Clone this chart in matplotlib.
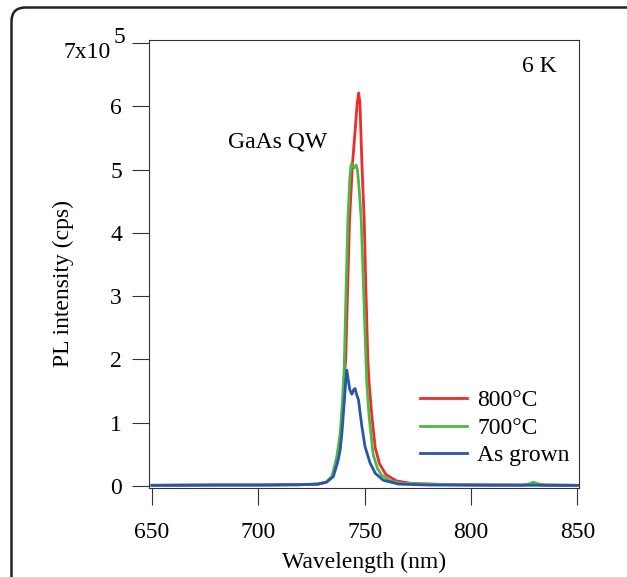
import matplotlib
matplotlib.use("Agg")
import matplotlib.pyplot as plt
from matplotlib.patches import FancyBboxPatch
from matplotlib.transforms import blended_transform_factory

plt.rcParams["font.family"] = ["Liberation Serif", "DejaVu Serif"]

# PL spectra, intensity in units of 1e5 cps
wl_800 = [650, 680, 700, 720, 728, 732, 735.0, 737.3, 738.9, 740.0, 740.8, 741.1,
          742.0, 742.9, 744.3, 745.5, 746.5, 747.2, 747.8, 748.7, 749.8, 750.6,
          751.5, 752.1, 753.4, 755.0, 757.0, 760.0, 765.0, 772.0, 790, 810,
          824, 827, 829, 831, 834, 850]
pl_800 = [0.01, 0.015, 0.015, 0.02, 0.03, 0.06, 0.15, 0.46, 0.83, 1.36, 1.88, 2.0,
          3.1, 4.2, 5.1, 5.6, 6.05, 6.21, 6.05, 5.1, 4.2, 3.1,
          2.0, 1.63, 1.1, 0.6, 0.35, 0.18, 0.08, 0.04, 0.02, 0.015,
          0.015, 0.02, 0.035, 0.02, 0.015, 0.01]

wl_700 = [650, 680, 700, 720, 728, 732, 734.6, 736.9, 738.5, 739.6, 740.4, 741.2,
          742.1, 743.0, 743.6, 744.0, 744.6, 745.2, 746.0, 746.6, 747.4, 748.4,
          749.5, 750.6, 751.0, 752.1, 754.0, 756.0, 758.0, 762.0, 768.0, 790,
          810, 824, 827, 829.4, 832, 835, 850]
pl_700 = [0.01, 0.015, 0.015, 0.02, 0.03, 0.06, 0.15, 0.46, 0.83, 1.36, 1.88, 3.0,
          4.2, 4.85, 5.07, 5.10, 5.06, 5.03, 5.07, 5.0, 4.7, 4.2,
          3.1, 2.0, 1.63, 1.1, 0.5, 0.28, 0.17, 0.08, 0.04, 0.02,
          0.015, 0.015, 0.03, 0.06, 0.03, 0.015, 0.01]

wl_asg = [650, 680, 700, 720, 728, 732, 735.3, 737.5, 738.5, 739.3, 740.5, 741.1,
          741.6, 742.2, 743.0, 744.0, 744.8, 745.5, 746.2, 747.1, 748.7, 750.2,
          752.6, 755.0, 758.8, 765.9, 780, 850]
pl_asg = [0.01, 0.015, 0.015, 0.02, 0.03, 0.06, 0.15, 0.4, 0.57, 0.83, 1.36, 1.65,
          1.83, 1.7, 1.52, 1.45, 1.52, 1.54, 1.45, 1.36, 0.94, 0.62,
          0.36, 0.2, 0.09, 0.03, 0.015, 0.01]

labels = ["800°C", "700°C", "As grown"]
colors = ["#ee2c2c", "#4cb848", "#2b55a8"]
yticks = [0, 1, 2, 3, 4, 5, 6, 7]
xticks = [650, 700, 750, 800, 850]

FS = 17

fig = plt.figure(figsize=(6.27, 5.77), dpi=100)
W, H = 627, 577
ax = fig.add_axes([149 / W, 1 - 488 / H, 430 / W, 448 / H])

ax.plot(wl_800, pl_800, color=colors[0], lw=2.0, label=labels[0])
ax.plot(wl_700, pl_700, color=colors[1], lw=2.0, label=labels[1])
ax.plot(wl_asg, pl_asg, color=colors[2], lw=2.0, label=labels[2])

ax.set_xlim(648.6, 850.8)
ax.set_ylim(-0.032, 7.047)
ax.set_xticks(xticks)
ax.set_yticks(yticks)
ax.set_yticklabels([str(t) for t in yticks[:-1]] + [""])
ax.tick_params(direction="out", length=12.5, width=0.8, color="#333333",
               labelsize=FS, pad=7)
ax.tick_params(axis="x", pad=12)
for s in ax.spines.values():
    s.set_linewidth(0.8)
    s.set_color("#333333")

# top y label 7x10^5
tr = blended_transform_factory(ax.transAxes, ax.transData)
ax.text(-0.09, 7.02, "7x10", transform=tr, ha="right", va="top", fontsize=FS,
        clip_on=False)
ax.text(-0.083, 6.92, "5", transform=tr, ha="left", va="bottom", fontsize=FS,
        clip_on=False)

fig.text(63 / W, 1 - 283 / H, "PL intensity (cps)", rotation=90,
         ha="center", va="center", fontsize=FS)
fig.text(364 / W, 1 - 568 / H, "Wavelength (nm)", ha="center",
         va="baseline", fontsize=FS)

fig.text(557 / W, 1 - 72 / H, "6 K", ha="right", va="baseline", fontsize=FS)
fig.text(228 / W, 1 - 147 / H, "GaAs QW", ha="left", va="baseline", fontsize=FS)

ax.legend(loc="upper left", bbox_to_anchor=(0.63, 0.219), frameon=False,
          fontsize=FS, handlelength=2.0, handletextpad=0.42,
          labelspacing=0.25, borderpad=0, borderaxespad=0)

# outer rounded frame
frame = FancyBboxPatch((11.5, -60), 700, 577 - 7.5 + 60,
                       boxstyle="round,pad=0,rounding_size=14",
                       transform=None, fill=False, lw=1.8, ec="#222222")
fig.patches.append(frame)

fig.savefig("out.png", dpi=100)
